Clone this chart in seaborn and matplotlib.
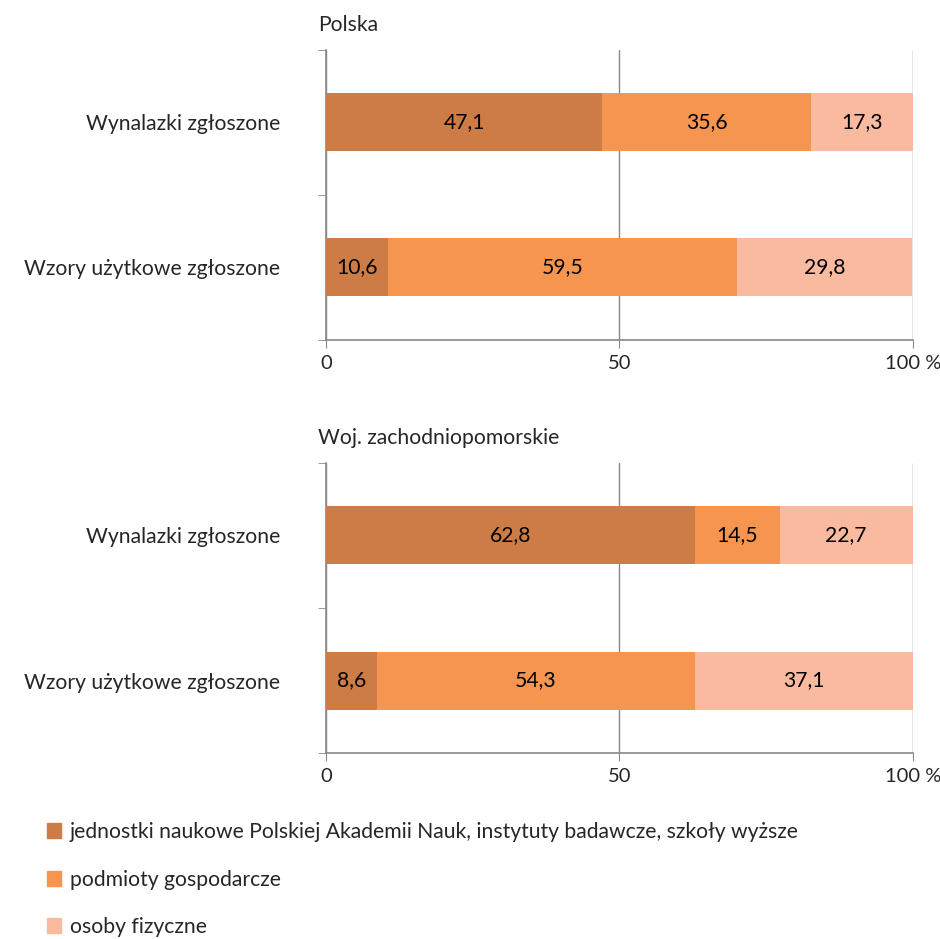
import matplotlib.pyplot as plt
import matplotlib.patches as mpatches
import numpy as np
import pandas as pd
import seaborn as sns

categories = ['Wynalazki zgłoszone', 'Wzory użytkowe zgłoszone']
series = ['jednostki naukowe Polskiej Akademii Nauk, instytuty badawcze, szkoły wyższe',
          'podmioty gospodarcze',
          'osoby fizyczne']
colors = ['#CC7C44', '#F69550', '#FABA9F']

panels = ['Polska', 'Woj. zachodniopomorskie']
polska = [[47.1, 35.6, 17.3],
          [10.6, 59.5, 29.8]]
zachodniopomorskie = [[62.8, 14.5, 22.7],
                      [8.6, 54.3, 37.1]]

sns.set_style('white')
plt.rcParams['font.family'] = ['Lato', 'DejaVu Sans']
fs = 15.2

fig = plt.figure(figsize=(9.4, 9.39), dpi=100)
ax1 = fig.add_axes([0.347, 0.638, 0.624, 0.309])
ax2 = fig.add_axes([0.347, 0.198, 0.624, 0.309])


def draw_panel(ax, title, values):
    vals = np.array(values)
    cum = np.cumsum(vals, axis=1)
    # draw cumulative totals from the widest one, so segments look stacked
    for i in reversed(range(len(series))):
        df = pd.DataFrame({'cat': categories, 'val': cum[:, i]})
        sns.barplot(data=df, y='cat', x='val', orient='h', color=colors[i],
                    width=0.4, ax=ax, saturation=1, linewidth=0, zorder=3)
    for r in range(len(categories)):
        starts = cum[r] - vals[r]
        for i in range(len(series)):
            label = f'{vals[r, i]:.1f}'.replace('.', ',')
            ax.text(starts[i] + vals[r, i] / 2, r, label, ha='center',
                    va='center', fontsize=fs, color='black', zorder=4)

    ax.set_xlim(0, 100)
    ax.set_ylim(1.5, -0.5)
    ax.set_xticks([0, 50, 100])
    ax.set_xticklabels(['0', '50', '100 %'], fontsize=14.5)
    ax.set_xlabel('')
    ax.set_ylabel('')
    ax.set_yticks([0, 1])
    ax.set_yticklabels(categories, fontsize=fs)
    ax.tick_params(axis='y', length=0, pad=33)
    ax.set_yticks([-0.5, 0.5, 1.5], minor=True)
    ax.tick_params(axis='y', which='minor', length=6, color='#888888',
                   direction='out', left=True)
    ax.tick_params(axis='x', length=6, color='#888888', direction='out',
                   bottom=True, pad=5)
    ax.xaxis.grid(True, color='#888888', linewidth=1, zorder=0)
    ax.set_axisbelow(True)
    for s in ['top', 'right']:
        ax.spines[s].set_visible(False)
    for s in ['left', 'bottom']:
        ax.spines[s].set_color('#888888')
        ax.spines[s].set_linewidth(1.2)
    ax.text(-0.014, 1.05, title, transform=ax.transAxes, ha='left',
            va='bottom', fontsize=fs)


draw_panel(ax1, panels[0], polska)
draw_panel(ax2, panels[1], zachodniopomorskie)

# pull the "100 %" labels a bit left so they stay inside the figure
for ax in (ax1, ax2):
    ax.get_xticklabels()[-1].set_horizontalalignment('center')

handles = [mpatches.Patch(color=c, label=s) for c, s in zip(colors, series)]
fig.legend(handles=handles, loc='upper left', bbox_to_anchor=(0.036, 0.138),
           frameon=False, ncol=1, labelspacing=1.3, handlelength=0.7,
           handleheight=0.7, handletextpad=0.4, fontsize=fs,
           borderaxespad=0.2)

fig.savefig('out.png', dpi=100)
